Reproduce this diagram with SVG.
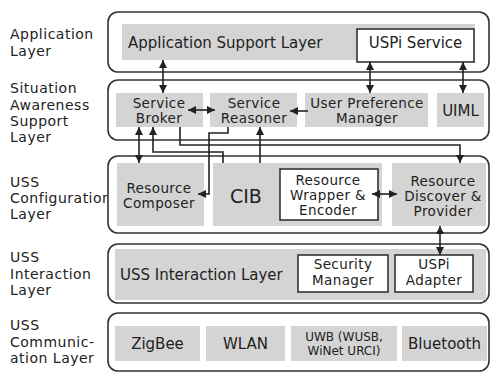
<svg xmlns="http://www.w3.org/2000/svg" width="492" height="372" viewBox="0 0 492 372">
<defs>
<marker id="ah" viewBox="0 0 8 8" refX="8" refY="4" markerWidth="8" markerHeight="8" markerUnits="userSpaceOnUse" orient="auto-start-reverse">
<path d="M0,0 L8,4 L0,8 z" fill="#222"/>
</marker>
<style>
.layer{fill:#fff;stroke:#333;stroke-width:1.6}
.g{fill:#d4d4d4}
.w{fill:#fff;stroke:#333;stroke-width:1.6}
text{font-family:"DejaVu Sans","Liberation Sans",sans-serif;font-size:15px;fill:#222}
.c{text-anchor:middle}
.s{font-size:13.5px;letter-spacing:0.4px}
.xs{font-size:12px}
.lb{font-size:14px;letter-spacing:0.5px}
.con{fill:none;stroke:#222;stroke-width:1.6}
</style>
</defs>
<rect width="492" height="372" fill="#fff"/>

<g id="labels">
<text class="lb" x="10" y="39">Application</text>
<text class="lb" x="10" y="56">Layer</text>
<text class="lb" x="10" y="93">Situation</text>
<text class="lb" x="10" y="110">Awareness</text>
<text class="lb" x="10" y="126">Support</text>
<text class="lb" x="10" y="142">Layer</text>
<text class="lb" x="10" y="187">USS</text>
<text class="lb" x="10" y="203">Configuration</text>
<text class="lb" x="10" y="219">Layer</text>
<text class="lb" x="10" y="262">USS</text>
<text class="lb" x="10" y="279">Interaction</text>
<text class="lb" x="10" y="295">Layer</text>
<text class="lb" x="10" y="330">USS</text>
<text class="lb" x="10" y="347">Communic-</text>
<text class="lb" x="10" y="363">ation Layer</text>
</g>

<g id="layer-app">
<rect class="layer" x="108" y="12" width="381" height="60" rx="10"/>
</g>
<g id="layer-sa">
<rect class="layer" x="108" y="80" width="381" height="60" rx="10"/>
</g>
<g id="layer-config">
<rect class="layer" x="108" y="156" width="381" height="77" rx="10"/>
</g>
<g id="layer-interaction">
<rect class="layer" x="108" y="244" width="381" height="59" rx="10"/>
</g>
<g id="layer-comm">
<rect class="layer" x="108" y="313" width="381" height="58" rx="10"/>
</g>

<g id="app-support">
<rect class="g" x="122" y="24" width="353" height="36"/>
<text x="128" y="48">Application Support Layer</text>
</g>
<g id="uspi-service">
<rect class="w" x="357" y="29" width="117" height="33"/>
<text class="c" x="415.5" y="48">USPi Service</text>
</g>

<g id="service-broker">
<rect class="g" x="116" y="93" width="87" height="34"/>
<text class="c s" x="159" y="108">Service</text>
<text class="c s" x="159" y="123">Broker</text>
</g>
<g id="service-reasoner">
<rect class="g" x="210" y="93" width="87" height="34"/>
<text class="c s" x="254" y="108">Service</text>
<text class="c s" x="254" y="123">Reasoner</text>
</g>
<g id="user-pref">
<rect class="g" x="305" y="93" width="123" height="34"/>
<text class="c s" x="367" y="108">User Preference</text>
<text class="c s" x="367" y="123">Manager</text>
</g>
<g id="uiml">
<rect class="g" x="437" y="93" width="47" height="34"/>
<text class="c" x="460.5" y="116">UIML</text>
</g>

<g id="resource-composer">
<rect class="g" x="117" y="163" width="87" height="63"/>
<text class="c s" x="159" y="193">Resource</text>
<text class="c s" x="159" y="208">Composer</text>
</g>
<g id="cib">
<rect class="g" x="213" y="163" width="169" height="63"/>
<text x="230" y="203" style="font-size:19px">CIB</text>
</g>
<g id="resource-wrapper">
<rect class="w" x="280" y="169" width="98" height="51"/>
<text class="c s" x="328" y="185">Resource</text>
<text class="c s" x="328" y="200">Wrapper &amp;</text>
<text class="c s" x="328" y="215">Encoder</text>
</g>
<g id="resource-discover">
<rect class="g" x="392" y="163" width="94" height="63"/>
<text class="c s" x="443" y="186">Resource</text>
<text class="c s" x="443" y="201">Discover &amp;</text>
<text class="c s" x="443" y="216">Provider</text>
</g>

<g id="uss-interaction">
<rect class="g" x="115" y="249" width="371" height="51"/>
<text x="120" y="280">USS Interaction Layer</text>
</g>
<g id="security-manager">
<rect class="w" x="298" y="255" width="90" height="37"/>
<text class="c s" x="343" y="269">Security</text>
<text class="c s" x="343" y="285">Manager</text>
</g>
<g id="uspi-adapter">
<rect class="w" x="395" y="255" width="78" height="37"/>
<text class="c s" x="434" y="269">USPi</text>
<text class="c s" x="434" y="285">Adapter</text>
</g>

<g id="zigbee">
<rect class="g" x="115" y="326" width="85" height="35"/>
<text class="c" x="157.5" y="349">ZigBee</text>
</g>
<g id="wlan">
<rect class="g" x="206" y="326" width="79" height="35"/>
<text class="c" x="245.5" y="349">WLAN</text>
</g>
<g id="uwb">
<rect class="g" x="291" y="326" width="106" height="35"/>
<text class="c xs" x="344" y="341">UWB (WUSB,</text>
<text class="c xs" x="344" y="355">WiNet URCI)</text>
</g>
<g id="bluetooth">
<rect class="g" x="402" y="326" width="85" height="35"/>
<text class="c" x="444.5" y="349">Bluetooth</text>
</g>

<g id="connectors">
<path class="con" d="M163,60 V93" marker-start="url(#ah)" marker-end="url(#ah)"/>
<path class="con" d="M370,62 V93" marker-start="url(#ah)" marker-end="url(#ah)"/>
<path class="con" d="M463,62 V93" marker-start="url(#ah)" marker-end="url(#ah)"/>
<path class="con" d="M188,110 H215" marker-start="url(#ah)" marker-end="url(#ah)"/>
<path class="con" d="M308,111 H290" marker-end="url(#ah)"/>
<path class="con" d="M139,127 V163" marker-start="url(#ah)" marker-end="url(#ah)"/>
<path class="con" d="M180,127 V145 H460 V163" marker-end="url(#ah)"/>
<path class="con" d="M223,163 V152 H153 V127" marker-end="url(#ah)"/>
<path class="con" d="M228,127 V133 H209 V194 H198" marker-end="url(#ah)"/>
<path class="con" d="M260,163 V127" marker-end="url(#ah)"/>
<path class="con" d="M372,194 H397" marker-start="url(#ah)" marker-end="url(#ah)"/>
<path class="con" d="M440,226 V255" marker-start="url(#ah)" marker-end="url(#ah)"/>
</g>
</svg>
